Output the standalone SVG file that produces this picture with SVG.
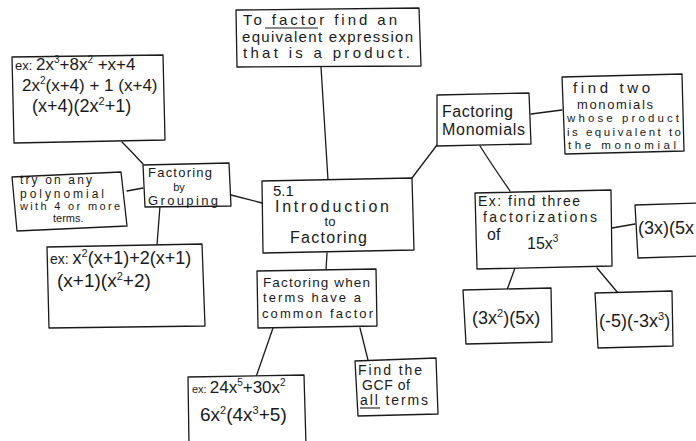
<svg xmlns="http://www.w3.org/2000/svg" width="696" height="441" viewBox="0 0 696 441">
<style>
.box{fill:#fff;stroke:#1a1a1a;stroke-width:1.3;stroke-linejoin:round}
.c{fill:none;stroke:#1a1a1a;stroke-width:1.3;stroke-linecap:round}
text{font-family:"Liberation Sans",Arial,sans-serif;fill:#1a1a1a}
.u{stroke:#1a1a1a;stroke-width:1.1}
</style>
<rect width="696" height="441" fill="#fff"/>
<g id="connectors">
<path class="c" d="M321,67 L328,180"/>
<path class="c" d="M412,178 L437,145"/>
<path class="c" d="M480,146 Q492,165 510,191"/>
<path class="c" d="M531,114 L562,110"/>
<path class="c" d="M612,228 L635,224"/>
<path class="c" d="M515,268 L507,290"/>
<path class="c" d="M597,268 L618,293"/>
<path class="c" d="M327,253 L326,270"/>
<path class="c" d="M273,328 L256,377"/>
<path class="c" d="M360,328 L368,360"/>
<path class="c" d="M231,195 L262,203"/>
<path class="c" d="M122,142 Q132,152 143,164"/>
<path class="c" d="M127,191 L143,188"/>
<path class="c" d="M160,206 L157,245"/>
</g>
<g id="def">
<polygon class="box" points="236,10 419,8 421,66 237,67"/>
<text x="243" y="25" font-size="15" textLength="154">To factor find an</text>
<line class="u" x1="265" y1="28" x2="318" y2="28"/>
<text x="242" y="42" font-size="15" textLength="171">equivalent expression</text>
<text x="243" y="58" font-size="15" textLength="167">that is a product.</text>
</g>
<g id="intro">
<polygon class="box" points="262,181 412,178 414,250 263,253"/>
<text x="273" y="196" font-size="15">5.1</text>
<text x="275" y="212" font-size="16" textLength="114">Introduction</text>
<text x="330" y="226" font-size="13" text-anchor="middle">to</text>
<text x="290" y="243" font-size="16" textLength="77">Factoring</text>
</g>
<g id="common">
<polygon class="box" points="257,271 376,269 377,326 258,328"/>
<text x="263" y="286.5" font-size="13.5" textLength="107">Factoring when</text>
<text x="263" y="302" font-size="13" textLength="98">terms have a</text>
<text x="262" y="317.5" font-size="13" textLength="111">common factor</text>
</g>
<g id="monomials">
<polygon class="box" points="437,95 529,93 531,144 437,146"/>
<text x="442" y="117" font-size="16" textLength="71">Factoring</text>
<text x="442" y="135" font-size="16" textLength="83">Monomials</text>
</g>
<g id="findtwo">
<polygon class="box" points="562,77 682,74 684,151 565,154"/>
<text x="573" y="93" font-size="15" textLength="77">find two</text>
<text x="577" y="108.5" font-size="13" textLength="76">monomials</text>
<text x="567" y="122" font-size="11.5" textLength="112">whose product</text>
<text x="567" y="135.5" font-size="11.5" textLength="114">is equivalent to</text>
<text x="568" y="148.5" font-size="11.5" textLength="108">the  monomial</text>
</g>
<g id="exthree">
<polygon class="box" points="475,193 611,190 612,266 477,269"/>
<text x="478" y="206" font-size="14" textLength="102">Ex: find three</text>
<text x="483" y="222" font-size="14" textLength="114">factorizations</text>
<text x="487" y="240" font-size="16">of</text>
<text x="527" y="249" font-size="16">15x<tspan dy="-7" font-size="10">3</tspan></text>
</g>
<g id="f1">
<polygon class="box" points="635,205 700,203 700,256 638,258"/>
<text x="638" y="234" font-size="18">(3x)(5x</text>
</g>
<g id="f2">
<polygon class="box" points="463,290 551,288 552,342 466,344"/>
<text x="472" y="324" font-size="18">(3x<tspan dy="-7" font-size="11">2</tspan><tspan dy="7">)(5x)</tspan></text>
</g>
<g id="f3">
<polygon class="box" points="595,293 672,291 673,346 598,348"/>
<text x="599" y="327" font-size="18">(-5)(-3x<tspan dy="-7" font-size="11">3</tspan><tspan dy="7">)</tspan></text>
</g>
<g id="ex24">
<polygon class="box" points="188,377 304,375 306,445 189,445"/>
<text x="192" y="393" font-size="17"><tspan font-size="11">ex: </tspan>24x<tspan dy="-7" font-size="10">5</tspan><tspan dy="7">+30x</tspan><tspan dy="-7" font-size="10">2</tspan></text>
<text x="200" y="421" font-size="19">6x<tspan dy="-7" font-size="11">2</tspan><tspan dy="7">(4x</tspan><tspan dy="-7" font-size="11">3</tspan><tspan dy="7">+5)</tspan></text>
</g>
<g id="gcf">
<polygon class="box" points="355,361 436,358 438,414 358,416"/>
<text x="358" y="375" font-size="14" textLength="64">Find the</text>
<text x="362" y="390" font-size="14" textLength="48">GCF of</text>
<text x="360" y="405" font-size="14" textLength="68">all terms</text>
<line class="u" x1="360" y1="408" x2="380" y2="408"/>
</g>
<g id="grouping">
<polygon class="box" points="143,165 229,163 231,206 145,207"/>
<text x="148" y="177" font-size="13" textLength="64">Factoring</text>
<text x="179" y="190.5" font-size="11" text-anchor="middle">by</text>
<text x="148" y="204.5" font-size="13" textLength="70">Grouping</text>
</g>
<g id="try">
<polygon class="box" points="12,177 121,172 127,226 17,231"/>
<text x="20" y="184" font-size="12" textLength="72">try on any</text>
<text x="20" y="197.5" font-size="12" textLength="84">polynomial</text>
<text x="20" y="210" font-size="11" textLength="100">with 4 or more</text>
<text x="53" y="222" font-size="11">terms.</text>
</g>
<g id="exgroup">
<polygon class="box" points="47,247 202,244 205,326 49,328"/>
<text x="50" y="264" font-size="18"><tspan font-size="14">ex: </tspan>x<tspan dy="-7" font-size="11">2</tspan><tspan dy="7">(x+1)+2(x+1)</tspan></text>
<text x="57" y="287" font-size="19">(x+1)(x<tspan dy="-7" font-size="11">2</tspan><tspan dy="7">+2)</tspan></text>
</g>
<g id="exbig">
<polygon class="box" points="12,57 163,55 165,140 14,143"/>
<text x="15" y="70" font-size="17"><tspan font-size="13">ex: </tspan>2x<tspan dy="-7" font-size="10">3</tspan><tspan dy="7">+8x</tspan><tspan dy="-7" font-size="10">2</tspan><tspan dy="7"> +x+4</tspan></text>
<text x="22" y="91" font-size="17">2x<tspan dy="-7" font-size="10">2</tspan><tspan dy="7">(x+4) + 1 (x+4)</tspan></text>
<text x="32" y="112" font-size="18">(x+4)(2x<tspan dy="-7" font-size="11">2</tspan><tspan dy="7">+1)</tspan></text>
</g>
</svg>
